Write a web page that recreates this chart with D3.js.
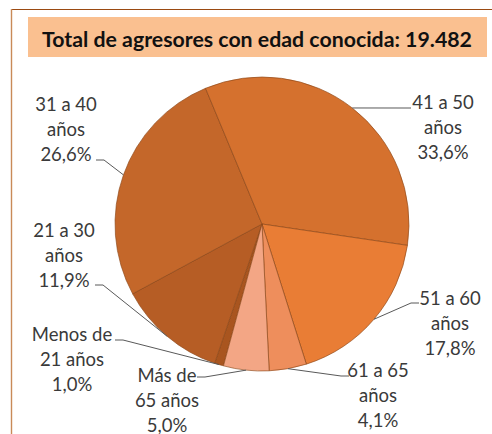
<!DOCTYPE html>
<html>
<head>
<meta charset="utf-8">
<script src="https://cdn.jsdelivr.net/npm/d3@7"></script>
<style>
  body { margin: 0; background: #fff; }
  svg { display: block; font-family: Lato, "Open Sans", sans-serif; }
</style>
</head>
<body>
<script>
// data
var categories = ["Menos de 21 años", "21 a 30 años", "31 a 40 años", "41 a 50 años",
                  "51 a 60 años", "61 a 65 años", "Más de 65 años"];
var percentages = [1.0, 11.9, 26.6, 33.6, 17.8, 4.1, 5.0];
var labelLines = [["Menos de", "21 años"], ["21 a 30", "años"], ["31 a 40", "años"], ["41 a 50", "años"],
                  ["51 a 60", "años"], ["61 a 65", "años"], ["Más de", "65 años"]];
var title = "Total de agresores con edad conocida: 19.482";

var colors = ["#A9551F", "#B65D25", "#C4672A", "#D5712E", "#E97D35", "#EE8E5C", "#F3A685"];

// label layout: text centre x, first baseline y, leader attach point (x, y), stub direction
var labelPos = [
  {x: 72, y: 341, ax: 115, ay: 340, dir: 1},
  {x: 64, y: 237, ax: 95, ay: 285, dir: 1},
  {x: 66, y: 111, ax: 96, ay: 160, dir: 1},
  {x: 443, y: 109, ax: 411, ay: 108, dir: -1},
  {x: 450, y: 305, ax: 419, ay: 303, dir: -1},
  {x: 378, y: 377, ax: 349, ay: 376, dir: -1},
  {x: 167, y: 382, ax: 197, ay: 377, dir: 1}
];

var width = 492, height = 434;
var cx = 262, cy = 224, r = 147;

var svg = d3.select("body").append("svg")
  .attr("width", width)
  .attr("height", height);

// chart frame
svg.append("line").attr("x1", 11).attr("y1", 9.5).attr("x2", width).attr("y2", 9.5)
  .attr("stroke", "#9A4A12").attr("stroke-width", 1.2);
svg.append("line").attr("x1", 11.5).attr("y1", 9).attr("x2", 11.5).attr("y2", height)
  .attr("stroke", "#C98A58").attr("stroke-width", 1.4);

// title box
svg.append("rect").attr("x", 28).attr("y", 17).attr("width", 459).attr("height", 40)
  .attr("fill", "#FAC090");
svg.append("text")
  .attr("x", 257).attr("y", 47)
  .attr("text-anchor", "middle")
  .attr("font-weight", "bold")
  .attr("font-size", 21.3)
  .attr("fill", "#111")
  .text(title);

var startDeg = -22.6 - (percentages[0] + percentages[1] + percentages[2]) * 3.6;
var startRad = startDeg * Math.PI / 180;

var pie = d3.pie().sort(null).value(function(d) { return d; })
  .startAngle(startRad).endAngle(startRad + 2 * Math.PI);
var arcs = pie(percentages);

var arc = d3.arc().innerRadius(0).outerRadius(r);

var g = svg.append("g").attr("transform", "translate(" + cx + "," + cy + ")");
g.selectAll("path")
  .data(arcs)
  .enter()
  .append("path")
  .attr("d", arc)
  .attr("fill", function(d, i) { return colors[i]; })
  .attr("stroke", "#8A4516")
  .attr("stroke-opacity", 0.8)
  .attr("stroke-width", 0.8);

// leader lines
arcs.forEach(function(d, i) {
  var p = labelPos[i];
  var mid = (d.startAngle + d.endAngle) / 2;
  var ex = cx + r * Math.sin(mid), ey = cy - r * Math.cos(mid);
  svg.append("polyline")
    .attr("points", [[p.ax, p.ay], [p.ax + p.dir * 8, p.ay], [ex, ey]].map(function(q) { return q.join(","); }).join(" "))
    .attr("fill", "none")
    .attr("stroke", "#595959")
    .attr("stroke-width", 1);
});

// labels
var labels = svg.append("g").attr("font-size", 18.5).attr("fill", "#3a3a3a").attr("text-anchor", "middle");
arcs.forEach(function(d, i) {
  var p = labelPos[i];
  var lines = labelLines[i].concat([d3.format(".1f")(percentages[i]).replace(".", ",") + "%"]);
  var t = labels.append("text").attr("x", p.x).attr("y", p.y);
  lines.forEach(function(s, k) {
    t.append("tspan").attr("x", p.x).attr("y", p.y + k * 25).text(s);
  });
});
</script>
</body>
</html>
